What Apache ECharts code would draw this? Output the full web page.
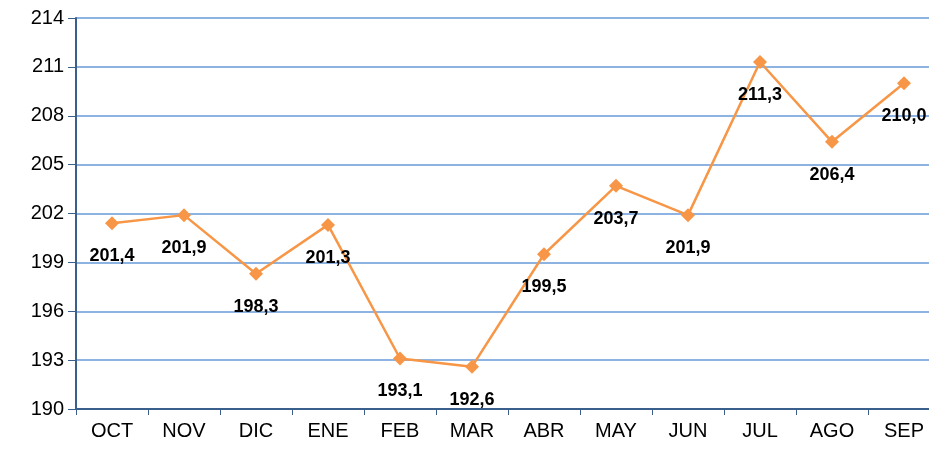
<!DOCTYPE html>
<html>
<head>
<meta charset="utf-8">
<script src="https://cdn.jsdelivr.net/npm/echarts@6/dist/echarts.min.js"></script>
<style>
  html, body { margin: 0; padding: 0; background: #fff; }
  #chart { width: 929px; height: 452px; }
</style>
</head>
<body>
<div id="chart"></div>
<script>
// 月份
const months = ['OCT', 'NOV', 'DIC', 'ENE', 'FEB', 'MAR', 'ABR', 'MAY', 'JUN', 'JUL', 'AGO', 'SEP']
// 数值
const values = [201.4, 201.9, 198.3, 201.3, 193.1, 192.6, 199.5, 203.7, 201.9, 211.3, 206.4, 210.0]
// Y轴刻度
const yMin = 190
const yMax = 214
const yStep = 3

const chart = echarts.init(document.getElementById('chart'))

chart.setOption({
  animation: false,
  // 绘图区右侧超出画布（原图被裁切）
  grid: { left: 76, width: 864, top: 18, bottom: 43, outerBoundsMode: 'none' },
  xAxis: {
    type: 'category',
    data: months,
    boundaryGap: true,
    axisLine: { lineStyle: { color: '#3b5f8c', width: 2 } },
    axisTick: { show: true, length: 6, lineStyle: { color: '#3b5f8c', width: 1 } },
    axisLabel: { color: '#000', fontSize: 20, fontFamily: 'Liberation Sans', margin: 12 }
  },
  yAxis: {
    type: 'value',
    min: yMin,
    max: yMax,
    interval: yStep,
    axisLine: { show: true, lineStyle: { color: '#3b5f8c', width: 2 } },
    axisTick: { show: true, length: 8, lineStyle: { color: '#3b5f8c', width: 1 } },
    axisLabel: { color: '#000', fontSize: 20, fontFamily: 'Liberation Sans', margin: 12 },
    splitLine: { lineStyle: { color: '#8db3e2', width: 2 } }
  },
  series: [
    {
      type: 'line',
      data: values,
      symbol: 'diamond',
      symbolSize: 14,
      itemStyle: { color: '#f79646' },
      lineStyle: { color: '#f79646', width: 2.5 },
      label: {
        show: true,
        position: 'bottom',
        distance: 17,
        color: '#000',
        fontSize: 18,
        fontWeight: 'bold',
        fontFamily: 'Liberation Sans',
        formatter: (p) => p.value.toFixed(1).replace('.', ',')
      }
    }
  ]
})
</script>
</body>
</html>
